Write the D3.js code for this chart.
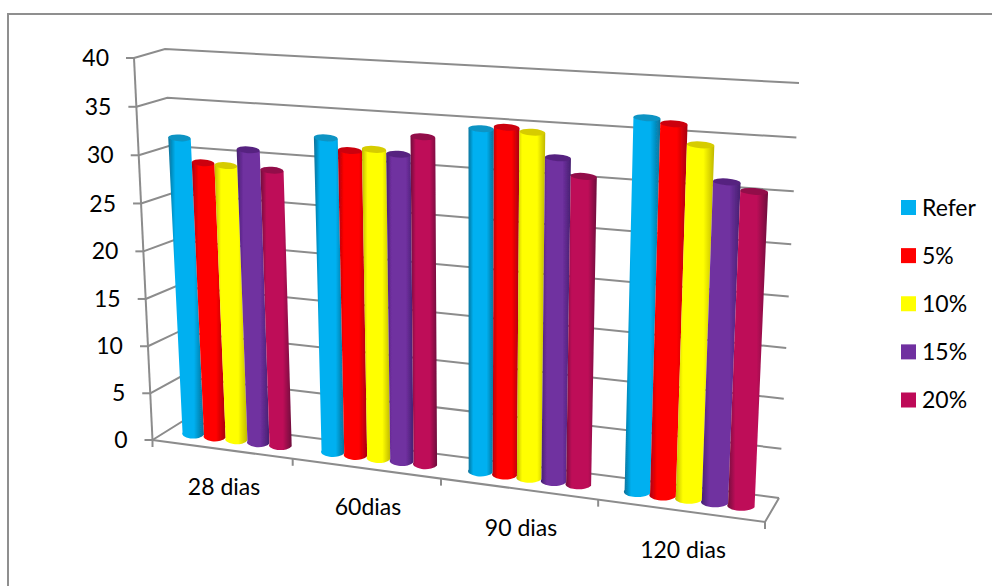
<!DOCTYPE html>
<html><head><meta charset="utf-8">
<script src="https://cdnjs.cloudflare.com/ajax/libs/d3/7.8.5/d3.min.js"></script>
<style>html,body{margin:0;padding:0;background:#fff}svg{display:block}text{font-family:Lato,"Noto Sans",sans-serif;fill:#000}</style>
</head><body><svg id="c" width="992" height="586"></svg>
<script>
const categories = ["28 dias","60dias","90 dias","120 dias"];
const seriesNames = ["Refer","5%","10%","15%","20%"];
const refer = [31.5,32.6,34.6,36.7];
const pct5 = [29.1,31.5,34.9,36.3];
const pct10 = [29.0,31.8,34.6,34.5];
const pct15 = [30.8,31.5,32.3,31.2];
const pct20 = [28.9,33.4,30.7,30.5];
const seriesValues = [refer,pct5,pct10,pct15,pct20];
const colors = ["#00B0F0","#FF0000","#FFFF00","#7030A0","#BE0A58"];
const topColors = ["#0F94C4","#CC0010","#D6CC00","#562480","#920848"];
const edgeColors = ["#0A6F96","#A80010","#C0B800","#452070","#6E0C3C"];
const valueTicks = d3.range(0,41,5);

const svg = d3.select("#c");
const GRID="#8c8c8c";
const defs=svg.append("defs");
defs.append("filter").attr("id","soft").append("feGaussianBlur").attr("stdDeviation",0.45);
// frame
svg.append("path").attr("d","M8 586V14H992").attr("fill","none").attr("stroke","#8f8f8f").attr("stroke-width",2);

// perspective box: front/back, left/right, bottom/top
const corners={fbl:[152.5,440],ftl:[132,58],fbr:[765,522],ftr:[783,100],
               bbl:[183,421],btl:[165,49],bbr:[779,498],btr:[799,83]};
const wallLeftTop=[134,58];
const warp=(t,r)=>t/(t+(1-t)*r);
const uScale=d3.scaleLinear().domain([0,categories.length]).range([0,1]);
const vScale=d3.scaleLinear().domain([0,40]).range([0,1]);
function project(cat,val,depth){
  const u=warp(uScale(cat),1.123);
  const vt=vScale(val);
  const v=warp(vt,1.025+0.03*depth+0.005*u);
  const mix=d3.interpolateNumber;
  const bl=[0,1].map(i=>corners.fbl[i]+(corners.bbl[i]-corners.fbl[i])*depth);
  const tl=[0,1].map(i=>corners.ftl[i]+(corners.btl[i]-corners.ftl[i])*depth);
  const br=[0,1].map(i=>corners.fbr[i]+(corners.bbr[i]-corners.fbr[i])*depth);
  const tr=[0,1].map(i=>corners.ftr[i]+(corners.btr[i]-corners.ftr[i])*depth);
  const L=[0,1].map(i=>mix(bl[i],tl[i])(v));
  const R=[0,1].map(i=>mix(br[i],tr[i])(v));
  return [mix(L[0],R[0])(u),mix(L[1],R[1])(u)];
}
const frontLeft=t=>{const p=project(0,t,0);return [p[0]+(wallLeftTop[0]-corners.ftl[0])*vScale(t),p[1]];};
const nCat=categories.length;
const line=d3.line();
const gWalls=svg.append("g").attr("fill","none").attr("stroke",GRID).attr("stroke-width",2).attr("filter","url(#soft)");
// gridlines
valueTicks.forEach(t=>{
  const a=frontLeft(t);
  gWalls.append("path").attr("d",line([a,project(0,t,1),project(nCat,t,1)]));
  gWalls.append("path").attr("d",line([[a[0]-8,a[1]],a]));
});
// axis lines
gWalls.append("path").attr("d",line([frontLeft(0),frontLeft(40)]));
gWalls.append("path").attr("d",line([project(0,0,0),project(nCat,0,0),project(nCat,0,1)]));
d3.range(0,nCat+1).forEach(i=>{
  const a=project(i,0,0);
  gWalls.append("path").attr("d",line([a,[a[0],a[1]+7]]));
});
// labels
valueTicks.forEach(t=>{
  const a=frontLeft(t);
  svg.append("text").attr("x",a[0]-25).attr("y",a[1]).attr("dy","0.35em")
    .attr("text-anchor","end").attr("font-size",23).text(t);
});
const catLabelPos=[[224,487],[368,507],[521,528],[683,550]];
categories.forEach((c,i)=>{
  svg.append("text").attr("x",catLabelPos[i][0]).attr("y",catLabelPos[i][1]).attr("dy","0.35em")
    .attr("text-anchor","middle").attr("font-size",23).text(c);
});

// gradients
colors.forEach((c,i)=>{
  const g=defs.append("linearGradient").attr("id","g"+i);
  [[0,edgeColors[i]],[0.2,c],[0.72,c],[1,edgeColors[i]]].forEach(s=>
    g.append("stop").attr("offset",s[0]).attr("stop-color",s[1]));
});
// bars
const groupFrac=0.79, barDepth=0.52;
const barX=d3.scaleBand().domain(d3.range(seriesNames.length)).range([(1-groupFrac)/2,1-(1-groupFrac)/2]);
const gBars=svg.append("g").attr("filter","url(#soft)");
categories.forEach((c,ci)=>{
  seriesNames.forEach((s,si)=>{
    const val=seriesValues[si][ci];
    const x0=ci+barX(si), x1=x0+barX.bandwidth();
    const bl=project(x0,0,barDepth), br=project(x1,0,barDepth);
    const tl=project(x0,val,barDepth), tr=project(x1,val,barDepth);
    const rb=(br[0]-bl[0])/2, rt=(tr[0]-tl[0])/2;
    const ryB=5, ryT=3.4;
    const d=`M${tl[0]} ${tl[1]}L${bl[0]} ${bl[1]}A${rb} ${ryB} 0 0 0 ${br[0]} ${br[1]}L${tr[0]} ${tr[1]}Z`;
    gBars.append("path").attr("d",d).attr("fill",`url(#g${si})`);
    gBars.append("ellipse").attr("cx",(tl[0]+tr[0])/2).attr("cy",(tl[1]+tr[1])/2)
      .attr("rx",rt).attr("ry",ryT).attr("fill",topColors[si])
      .attr("transform",`rotate(${Math.atan2(tr[1]-tl[1],tr[0]-tl[0])*180/Math.PI} ${(tl[0]+tr[0])/2} ${(tl[1]+tr[1])/2})`);
  });
});
// legend
const legY=d3.scalePoint().domain(seriesNames).range([207.5,400]);
seriesNames.forEach((s,i)=>{
  svg.append("rect").attr("x",901).attr("y",legY(s)-7.5).attr("width",15).attr("height",15).attr("fill",colors[i]);
  svg.append("text").attr("x",922).attr("y",legY(s)).attr("dy","0.35em").attr("font-size",23).text(s);
});
</script></body></html>
